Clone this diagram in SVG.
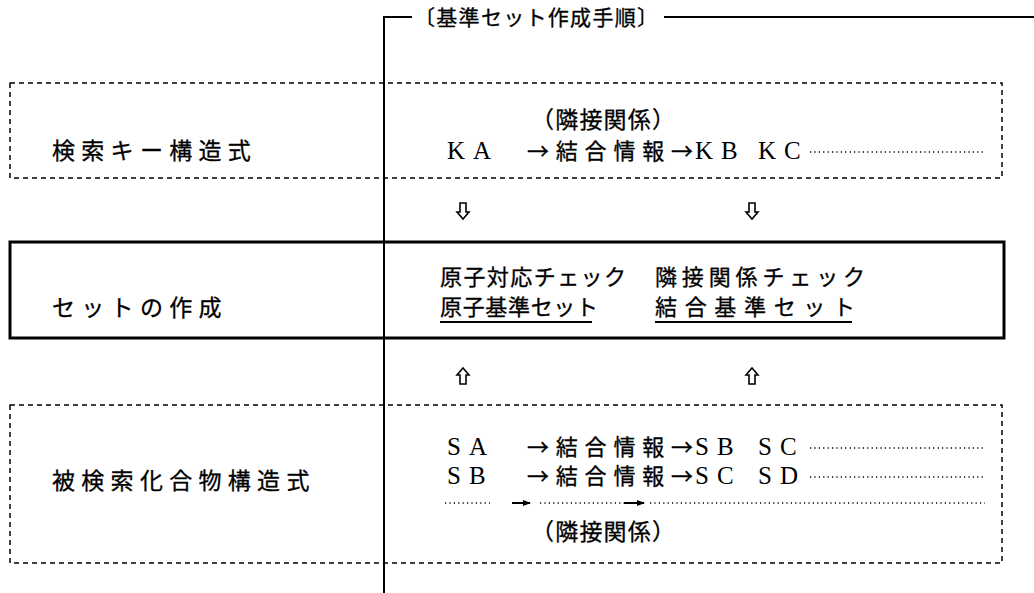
<svg xmlns="http://www.w3.org/2000/svg" width="1034" height="593" viewBox="0 0 1034 593">
<style>
.jp{font-family:"Noto Sans CJK JP","Noto Sans CJK SC",sans-serif;font-size:22px;fill:#000;stroke:#000;stroke-width:0.3}
.lbl{font-size:23px;letter-spacing:6.3px}
.ttl{font-size:21px}
.par{font-size:23px}
.lat{font-family:"Liberation Serif",serif;font-size:25px;fill:#000;letter-spacing:8px}
.dash{fill:none;stroke:#000;stroke-width:1.5;stroke-dasharray:5 4}
.dot{stroke:#000;stroke-width:1.3;stroke-dasharray:1.2 3.2;fill:none}
.ln{stroke:#000;stroke-width:2;fill:none}
.blk{fill:#fff;stroke:#000;stroke-width:1.6}
</style>
<defs>
<marker id="ah" markerWidth="8" markerHeight="6" refX="7" refY="3" orient="auto" markerUnits="userSpaceOnUse"><path d="M0,0 L8,3 L0,6 Z" fill="#000"/></marker>
<path id="dn" d="M-3,0 H3 V9 H6 L0,16 L-6,9 H-3 Z"/>
<path id="up" d="M-3,16 H3 V7 H6 L0,0 L-6,7 H-3 Z"/>
</defs>
<rect width="1034" height="593" fill="#fff"/>
<g id="frame">
<path class="ln" d="M384,593 V17 H412"/>
<path class="ln" d="M664,17 H1034"/>
<text class="jp ttl" x="414" y="25" textLength="244" lengthAdjust="spacing">〔基準セット作成手順〕</text>
</g>
<g id="key">
<rect class="dash" x="10" y="83" width="992" height="95"/>
<text class="jp lbl" x="52" y="159">検索キー構造式</text>
<text class="jp par" x="531" y="128" textLength="144" lengthAdjust="spacing">（隣接関係）</text>
<text class="lat" x="447" y="159">KA</text>
<text class="jp" x="527" y="159" textLength="166" lengthAdjust="spacing">→結合情報→</text>
<text class="lat" x="695" y="159">KB</text>
<text class="lat" x="758" y="159">KC</text>
<line class="dot" x1="810" y1="152" x2="985" y2="152"/>
</g>
<g id="set">
<rect x="10" y="242" width="994" height="96" fill="none" stroke="#000" stroke-width="3"/>
<text class="jp lbl" x="52" y="316">セットの作成</text>
<text class="jp" x="440" y="285" textLength="186" lengthAdjust="spacing">原子対応チェック</text>
<text class="jp" x="440" y="315" textLength="158" lengthAdjust="spacing">原子基準セット</text>
<line class="ln" x1="440" y1="322" x2="592" y2="322"/>
<text class="jp" x="655" y="285" textLength="210" lengthAdjust="spacing">隣接関係チェック</text>
<text class="jp" x="655" y="315" textLength="200" lengthAdjust="spacing">結合基準セット</text>
<line class="ln" x1="655" y1="322" x2="852" y2="322"/>
</g>
<g id="target">
<rect class="dash" x="10" y="405" width="992" height="158"/>
<text class="jp lbl" x="52" y="489">被検索化合物構造式</text>
<text class="lat" x="447" y="455">SA</text>
<text class="jp" x="527" y="455" textLength="166" lengthAdjust="spacing">→結合情報→</text>
<text class="lat" x="695" y="455">SB</text>
<text class="lat" x="758" y="455">SC</text>
<line class="dot" x1="810" y1="448" x2="985" y2="448"/>
<text class="lat" x="447" y="484">SB</text>
<text class="jp" x="527" y="484" textLength="166" lengthAdjust="spacing">→結合情報→</text>
<text class="lat" x="695" y="484">SC</text>
<text class="lat" x="758" y="484">SD</text>
<line class="dot" x1="810" y1="477" x2="985" y2="477"/>
<text class="jp par" x="531" y="540" textLength="144" lengthAdjust="spacing">（隣接関係）</text>
</g>
<g id="connectors">
<use href="#dn" class="blk" x="463" y="203"/>
<use href="#dn" class="blk" x="752" y="203"/>
<use href="#up" class="blk" x="463" y="368"/>
<use href="#up" class="blk" x="752" y="368"/>
<line class="dot" x1="445" y1="503" x2="490" y2="503"/>
<line class="ln" x1="512" y1="503" x2="530" y2="503" stroke-width="1.5" marker-end="url(#ah)"/>
<line class="dot" x1="540" y1="503" x2="624" y2="503"/>
<line class="ln" x1="624" y1="503" x2="644" y2="503" stroke-width="1.5" marker-end="url(#ah)"/>
<line class="dot" x1="650" y1="503" x2="985" y2="503"/>
</g>
</svg>
